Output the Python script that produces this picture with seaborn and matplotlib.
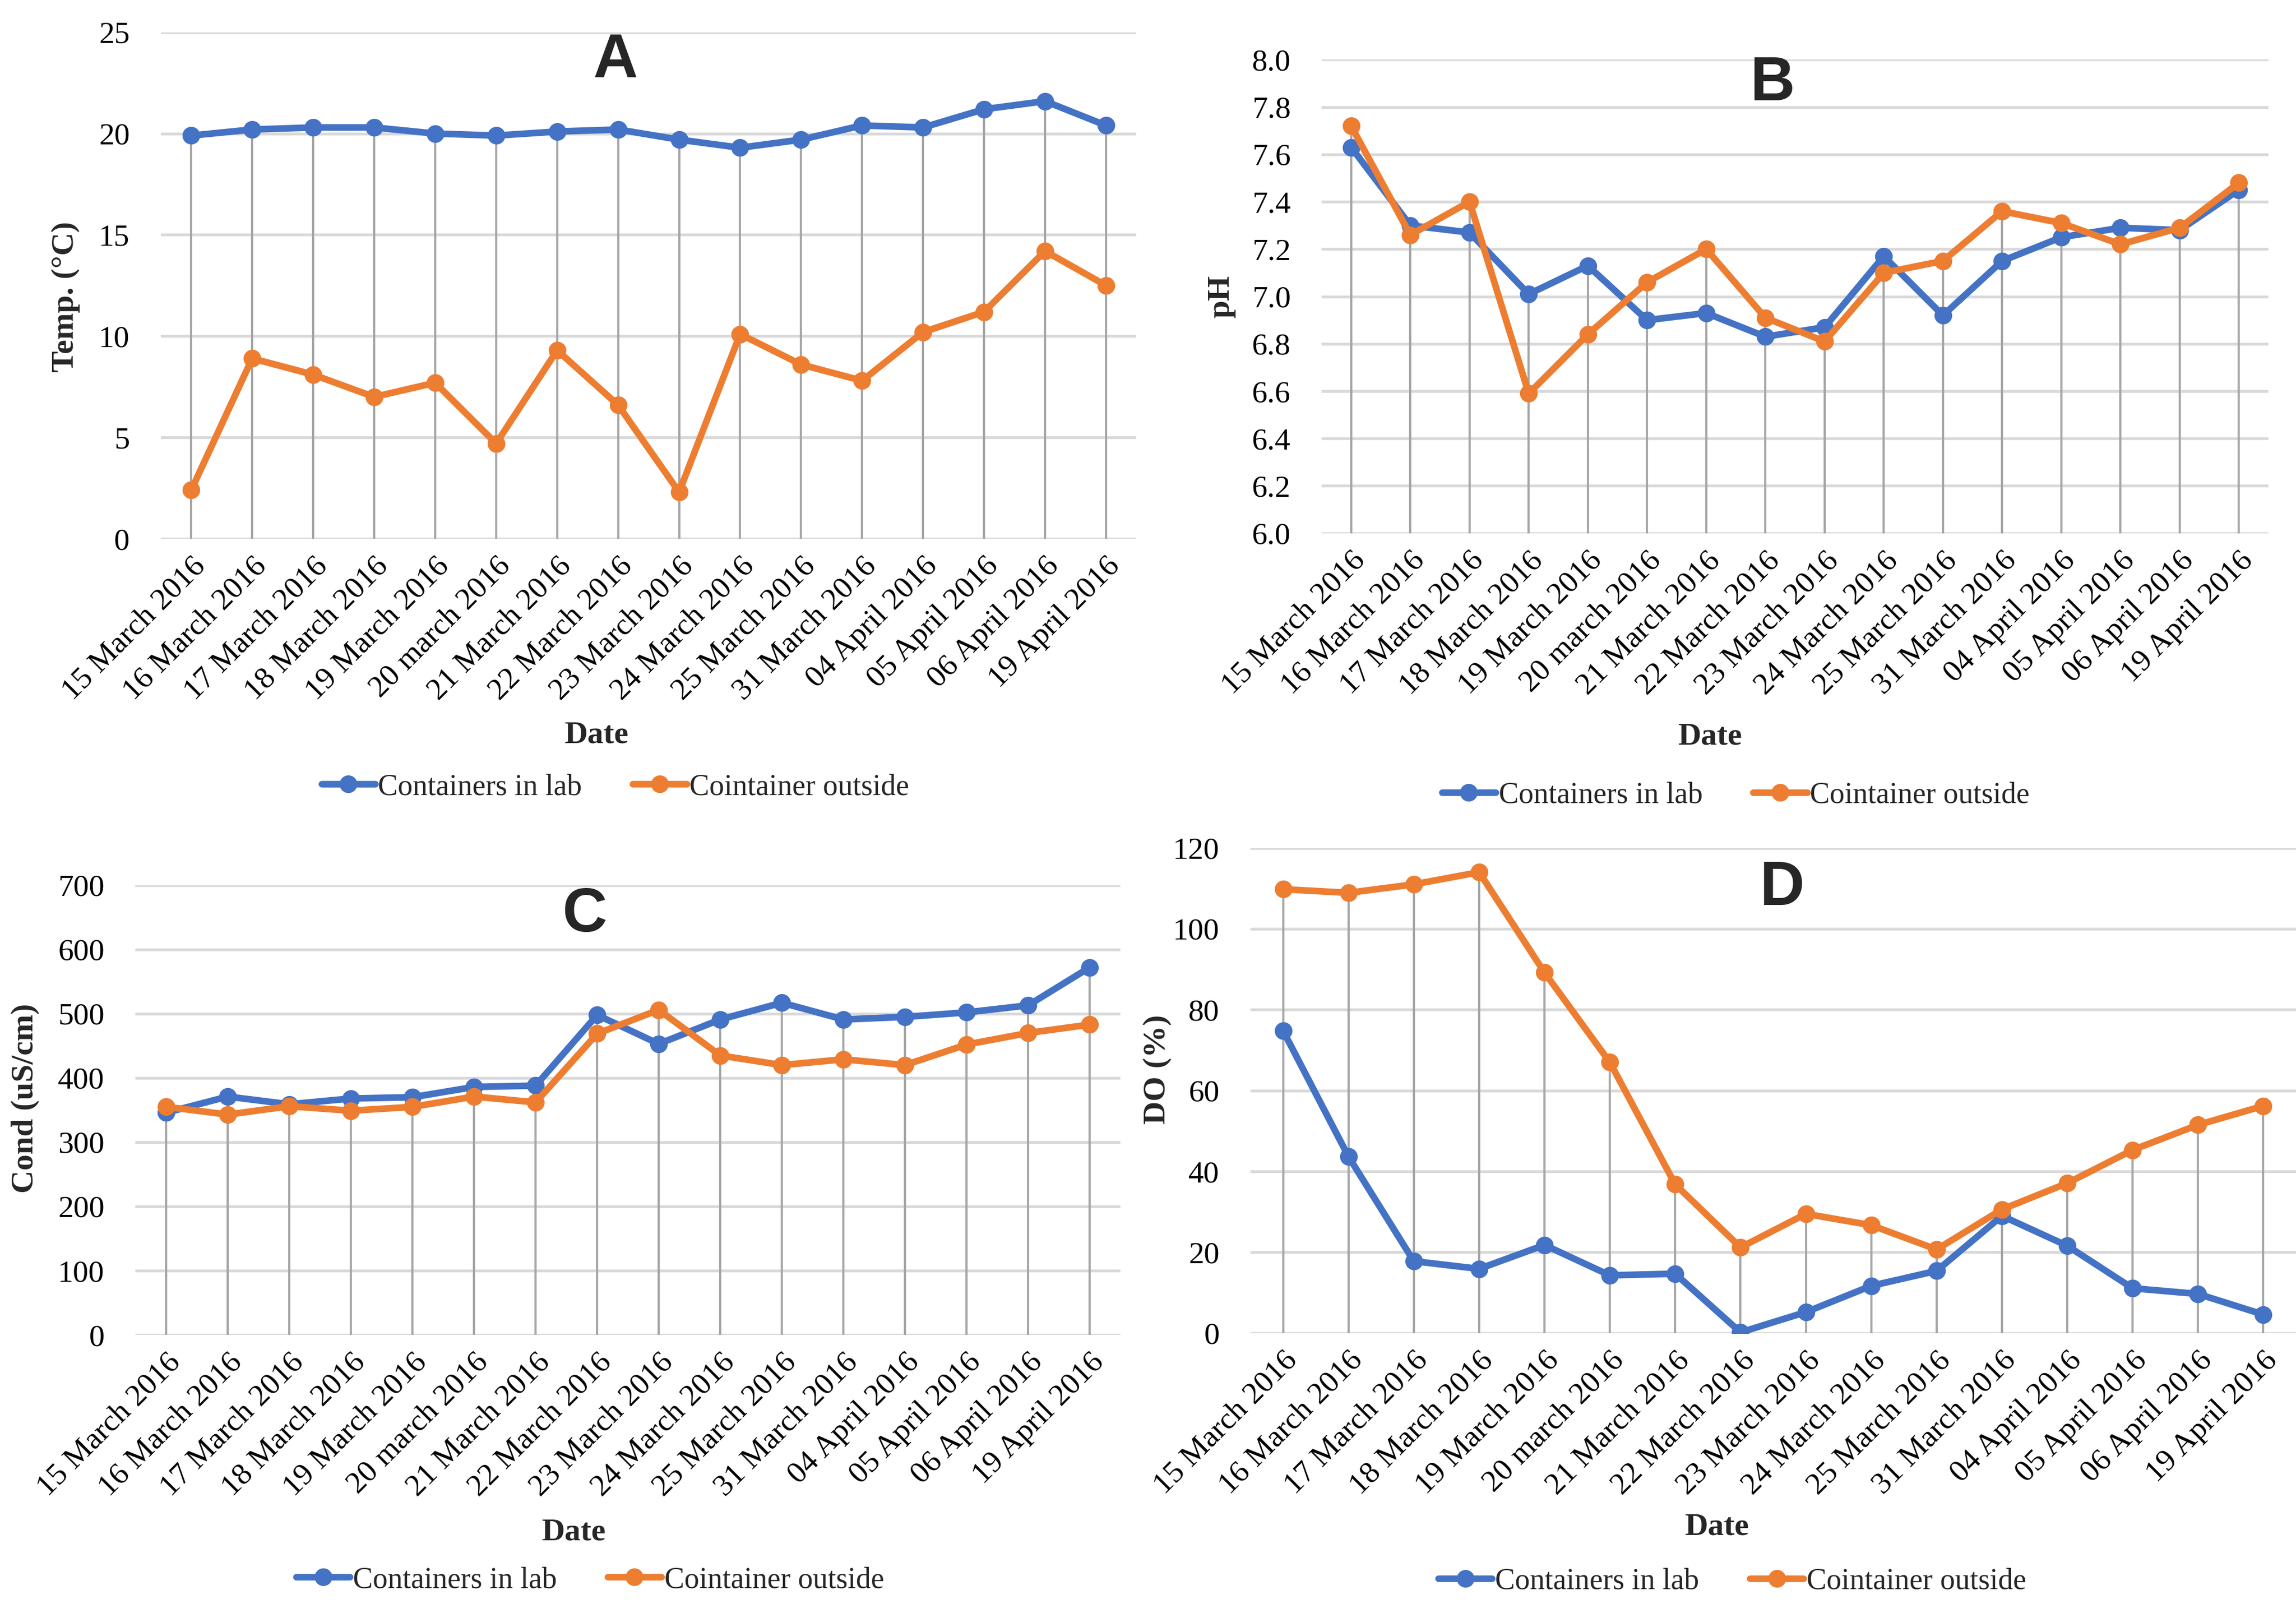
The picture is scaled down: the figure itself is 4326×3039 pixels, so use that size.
import seaborn as sns
import pandas as pd
import matplotlib.pyplot as plt
import matplotlib.ticker as mticker

dates = ['15 March 2016', '16 March 2016', '17 March 2016', '18 March 2016',
         '19 March 2016', '20 march 2016', '21 March 2016', '22 March 2016',
         '23 March 2016', '24 March 2016', '25 March 2016', '31 March 2016',
         '04 April 2016', '05 April 2016', '06 April 2016', '19 April 2016']

temp_lab = [19.9, 20.2, 20.3, 20.3, 20.0, 19.9, 20.1, 20.2, 19.7, 19.3, 19.7, 20.4, 20.3, 21.2, 21.6, 20.4]
temp_out = [2.4, 8.9, 8.1, 7.0, 7.7, 4.7, 9.3, 6.6, 2.3, 10.1, 8.6, 7.8, 10.2, 11.2, 14.2, 12.5]

ph_lab = [7.63, 7.30, 7.27, 7.01, 7.13, 6.90, 6.93, 6.83, 6.87, 7.17, 6.92, 7.15, 7.25, 7.29, 7.28, 7.45]
ph_out = [7.72, 7.26, 7.40, 6.59, 6.84, 7.06, 7.20, 6.91, 6.81, 7.10, 7.15, 7.36, 7.31, 7.22, 7.29, 7.48]

cond_lab = [346, 371, 359, 368, 370, 386, 388, 498, 453, 491, 517, 491, 495, 502, 513, 572]
cond_out = [355, 343, 356, 349, 355, 371, 362, 469, 506, 435, 420, 429, 420, 452, 470, 483]

do_lab = [74.8, 43.7, 17.8, 15.9, 21.8, 14.3, 14.7, 0.2, 5.2, 11.7, 15.4, 29.0, 21.6, 11.1, 9.7, 4.6]
do_out = [109.8, 108.9, 111.0, 114.0, 89.2, 67.0, 36.8, 21.2, 29.5, 26.7, 20.7, 30.6, 37.1, 45.3, 51.5, 56.2]

series_names = ['Containers in lab', 'Cointainer outside']

sns.set_theme(style='white')
plt.rcParams['font.family'] = ['Liberation Serif', 'DejaVu Serif']

colors = ['#4472C4', '#ED7D31']

fig = plt.figure(figsize=(14.42, 10.13), dpi=300)

panels = [
    # letter, lab, out, ylabel, ylim, step, fmt, axes rect, letter pos, ylabel pos, date pos, legend pos
    ('A', temp_lab, temp_out, 'Temp. (°C)', (0, 25), 5, '%d',
     [0.070, 0.666, 0.425, 0.314], (0.268, 0.962), (0.0287, 0.816), (0.260, 0.544), (0.268, 0.512)),
    ('B', ph_lab, ph_out, 'pH', (6.0, 8.0), 0.2, '%.1f',
     [0.5756, 0.6694, 0.4124, 0.2936], (0.772, 0.948), (0.532, 0.816), (0.745, 0.543), (0.756, 0.507)),
    ('C', cond_lab, cond_out, 'Cond (uS/cm)', (0, 700), 100, '%d',
     [0.059, 0.1724, 0.429, 0.2788], (0.2545, 0.4327), (0.011, 0.319), (0.250, 0.050), (0.257, 0.0204)),
    ('D', do_lab, do_out, 'DO (%)', (0, 120), 20, '%d',
     [0.5446, 0.1735, 0.4554, 0.3008], (0.776, 0.449), (0.504, 0.337), (0.748, 0.053), (0.7545, 0.0195)),
]

for letter, lab, out, ylabel, ylim, step, fmt, rect, lpos, ypos, dpos, legpos in panels:
    ax = fig.add_axes(rect)
    df = pd.DataFrame({
        'Date': dates * 2,
        'value': lab + out,
        'series': [series_names[0]] * len(dates) + [series_names[1]] * len(dates),
    })

    # grey drop lines from the axis up to the highest point
    tops = [max(a, b) for a, b in zip(lab, out)]
    ax.vlines(range(len(dates)), ylim[0], tops, color='#A6A6A6', lw=1.0, zorder=1)

    sns.lineplot(data=df, x='Date', y='value', hue='series', palette=colors,
                 marker='o', markersize=8, markeredgewidth=0, linewidth=3.0,
                 sort=False, ax=ax, zorder=3)

    ax.set_xlim(-0.5, len(dates) - 0.5)
    ax.set_ylim(*ylim)
    ax.yaxis.set_major_locator(mticker.MultipleLocator(step))
    ax.yaxis.set_major_formatter(mticker.FormatStrFormatter(fmt))
    ax.grid(axis='y', color='#D9D9D9', lw=1.3, zorder=0)
    ax.grid(axis='x', visible=False)
    for s in ax.spines.values():
        s.set_visible(False)
    ax.tick_params(axis='both', length=0, labelsize=14, colors='black')
    ax.tick_params(axis='y', pad=14)
    plt.setp(ax.get_xticklabels(), rotation=45, ha='right', rotation_mode='anchor')
    ax.tick_params(axis='x', pad=6)

    ax.set_xlabel('')
    ax.set_ylabel('')
    fig.text(ypos[0], ypos[1], ylabel, rotation=90, ha='center', va='center',
             fontsize=14.5, fontweight='bold')
    fig.text(dpos[0], dpos[1], 'Date', ha='center', va='center',
             fontsize=14.5, fontweight='bold')
    fig.text(lpos[0], lpos[1], letter, ha='center', va='center',
             fontsize=28, fontweight='bold', family=['Liberation Sans', 'DejaVu Sans'])

    ax.legend_.remove()
    handles, labels = ax.get_legend_handles_labels()
    fig.legend(handles, labels, loc='center', bbox_to_anchor=legpos, ncol=2,
               frameon=False, fontsize=13.5, handlelength=1.8, handletextpad=0.1,
               columnspacing=1.7)

fig.savefig('out.png', dpi=300, facecolor='white')
